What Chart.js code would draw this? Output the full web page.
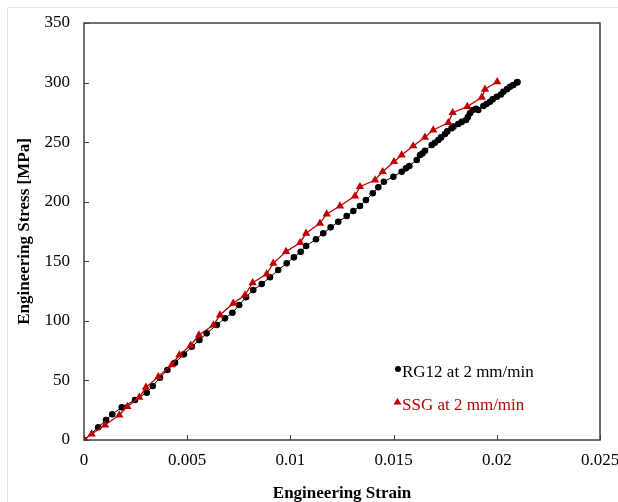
<!DOCTYPE html>
<html>
<head>
<meta charset="utf-8">
<script src="https://cdn.jsdelivr.net/npm/chart.js@4/dist/chart.umd.min.js"></script>
<style>
  html, body { margin: 0; padding: 0; background: #fff; }
  canvas { display: block; }
</style>
</head>
<body>
<canvas id="stress-strain" width="618" height="502"></canvas>
<script>
// RG12 at 2 mm/min (black circles)
const rgStrain = [0, 0.00069, 0.00107, 0.00137, 0.00183, 0.00247, 0.00304, 0.00333, 0.00368, 0.00404,
  0.00441, 0.00484, 0.00522, 0.00559, 0.00594, 0.00643, 0.00683, 0.00719, 0.00752, 0.00785,
  0.0082, 0.00861, 0.00901, 0.00941, 0.00982, 0.01017, 0.0105, 0.01076, 0.01124, 0.01159,
  0.01195, 0.01232, 0.01273, 0.01305, 0.01337, 0.01366, 0.01399, 0.01426, 0.01453, 0.01499,
  0.01539, 0.0156, 0.01576, 0.01612, 0.01628, 0.0164, 0.01652, 0.01685, 0.017, 0.01717,
  0.0173, 0.01749, 0.0176, 0.01781, 0.0179, 0.01813, 0.0183, 0.01851, 0.0186, 0.0187,
  0.01883, 0.019, 0.0191, 0.01935, 0.0195, 0.01967, 0.0198, 0.02, 0.0202, 0.02032,
  0.0205, 0.02064, 0.0208, 0.02098, 0.0210];
const rgStress = [0, 10.7, 16.8, 21.6, 27.4, 33.6, 39.7, 45.3, 52.3, 58.8,
  64.9, 71.9, 78.3, 83.9, 89.5, 96.5, 102.1, 106.8, 113.3, 119.8,
  125.9, 130.9, 136.6, 142.7, 148.3, 153.3, 158.0, 162.8, 168.5, 173.5,
  178.5, 183.2, 188, 192.2, 196.4, 201.4, 207.1, 212.1, 216.8, 221,
  225.2, 228, 230, 235, 239.2, 240.5, 242.8, 247.6, 249.5, 251.8,
  254, 256.8, 259, 261.6, 263, 265.2, 267, 268.6, 271, 274.2,
  277, 278, 277, 280.3, 282, 283.9, 286, 288.1, 290, 292.3,
  294.5, 296.5, 298, 300, 300.5];

// SSG at 2 mm/min (red triangles)
const ssgStrain = [0, 0.00037, 0.00102, 0.00171, 0.0021, 0.00268, 0.003, 0.0036, 0.00425, 0.00462,
  0.00517, 0.00557, 0.00627, 0.00659, 0.00723, 0.0078, 0.00817, 0.00885, 0.00917, 0.00979,
  0.01047, 0.01076, 0.01143, 0.01176, 0.0124, 0.01313, 0.01337, 0.0141, 0.01447, 0.01502,
  0.01539, 0.01595, 0.01652, 0.01692, 0.01765, 0.01786, 0.01857, 0.01927, 0.01943, 0.02002];
const ssgStress = [0, 5, 12.6, 21, 28, 35.8, 44.2, 53.1, 63, 71.3,
  79.5, 88.1, 96.5, 104.9, 114.7, 121.7, 132.0, 139.3, 148.3, 158.1,
  165.6, 173.5, 181.9, 189.7, 196.4, 204.8, 212.6, 218.2, 225.2, 233.6,
  239.2, 246.8, 254.1, 260.2, 266.3, 274.7, 279.8, 287.6, 294.4, 300.7];

const xTicks = [0, 0.005, 0.01, 0.015, 0.02, 0.025];
const yTicks = [0, 50, 100, 150, 200, 250, 300, 350];
const seriesNames = ['RG12 at 2 mm/min', 'SSG at 2 mm/min'];

const RED = '#c00000';
const FONT = '"Liberation Serif", "Times New Roman", serif';

const toPoints = (xs, ys) => xs.map((x, i) => ({ x: x, y: ys[i] }));

// box, inside tick marks, outer frame lines and the in-plot legend
const framePlugin = {
  id: 'frame',
  beforeDraw(chart) {
    const c = chart.ctx;
    c.save();
    c.fillStyle = '#fff';
    c.fillRect(0, 0, chart.width, chart.height);
    c.strokeStyle = '#e3e3e3';
    c.lineWidth = 1;
    c.beginPath();
    c.moveTo(7.5, chart.height);
    c.lineTo(7.5, 7.5);
    c.lineTo(chart.width, 7.5);
    c.stroke();
    c.restore();
  },
  beforeDatasetsDraw(chart) {
    const c = chart.ctx;
    const a = chart.chartArea;
    const sx = chart.scales.x, sy = chart.scales.y;
    c.save();
    c.strokeStyle = '#404040';
    c.lineWidth = 1.5;
    c.strokeRect(a.left, a.top, a.right - a.left, a.bottom - a.top);
    c.lineWidth = 1;
    c.beginPath();
    xTicks.forEach(v => {
      const px = Math.round(sx.getPixelForValue(v)) + 0.5;
      c.moveTo(px, a.bottom);
      c.lineTo(px, a.bottom - 5);
    });
    yTicks.forEach(v => {
      const py = Math.round(sy.getPixelForValue(v)) + 0.5;
      c.moveTo(a.left, py);
      c.lineTo(a.left + 5, py);
    });
    c.stroke();
    c.restore();
  },
  afterDraw(chart) {
    const c = chart.ctx;
    c.save();
    c.font = '17px ' + FONT;
    c.textAlign = 'left';
    c.textBaseline = 'alphabetic';
    // row 1
    c.fillStyle = '#000';
    c.beginPath();
    c.arc(398, 369, 3, 0, Math.PI * 2);
    c.fill();
    c.fillText(seriesNames[0], 402, 377);
    // row 2
    c.fillStyle = RED;
    c.beginPath();
    c.moveTo(397.5, 398);
    c.lineTo(401.5, 404.5);
    c.lineTo(393.5, 404.5);
    c.closePath();
    c.fill();
    c.fillText(seriesNames[1], 402, 410);
    c.restore();
  }
};

const ctx = document.getElementById('stress-strain').getContext('2d');

new Chart(ctx, {
  type: 'scatter',
  data: {
    datasets: [{
      label: seriesNames[0],
      data: toPoints(rgStrain, rgStress),
      showLine: true,
      borderColor: '#000',
      borderWidth: 1,
      backgroundColor: '#000',
      pointStyle: 'circle',
      pointRadius: 3.3,
      pointBorderWidth: 0,
      order: 2
    }, {
      label: seriesNames[1],
      data: toPoints(ssgStrain, ssgStress),
      showLine: true,
      borderColor: RED,
      borderWidth: 1.3,
      backgroundColor: RED,
      pointStyle: 'triangle',
      pointRadius: 4.8,
      pointBorderWidth: 0,
      order: 1
    }]
  },
  options: {
    responsive: false,
    animation: false,
    layout: { padding: { top: 23, right: 18, left: 0, bottom: 0 } },
    plugins: {
      legend: { display: false },
      tooltip: { enabled: false }
    },
    scales: {
      x: {
        type: 'linear',
        min: 0,
        max: 0.025,
        afterBuildTicks: s => { s.ticks = xTicks.map(v => ({ value: v })); },
        afterFit: s => { s.height = 62; s.paddingLeft = 0; s.paddingRight = 0; },
        grid: { display: false, drawTicks: false },
        border: { display: false },
        ticks: {
          padding: 10,
          color: '#000',
          maxRotation: 0,
          font: { family: FONT, size: 17 },
          callback: v => String(v)
        },
        title: {
          display: true,
          text: 'Engineering Strain',
          color: '#000',
          padding: 0,
          font: { family: FONT, size: 17, weight: 'bold', lineHeight: 1 }
        }
      },
      y: {
        type: 'linear',
        min: 0,
        max: 350,
        afterBuildTicks: s => { s.ticks = yTicks.map(v => ({ value: v })); },
        afterFit: s => { s.width = 84; s.paddingTop = 0; s.paddingBottom = 0; },
        grid: { display: false, drawTicks: false },
        border: { display: false },
        ticks: {
          padding: 14,
          color: '#000',
          font: { family: FONT, size: 17 },
          callback: v => String(v)
        },
        title: {
          display: true,
          text: 'Engineering Stress [MPa]',
          color: '#000',
          padding: { top: 16, bottom: 0 },
          font: { family: FONT, size: 17, weight: 'bold', lineHeight: 1 }
        }
      }
    }
  },
  plugins: [framePlugin]
});
</script>
</body>
</html>
